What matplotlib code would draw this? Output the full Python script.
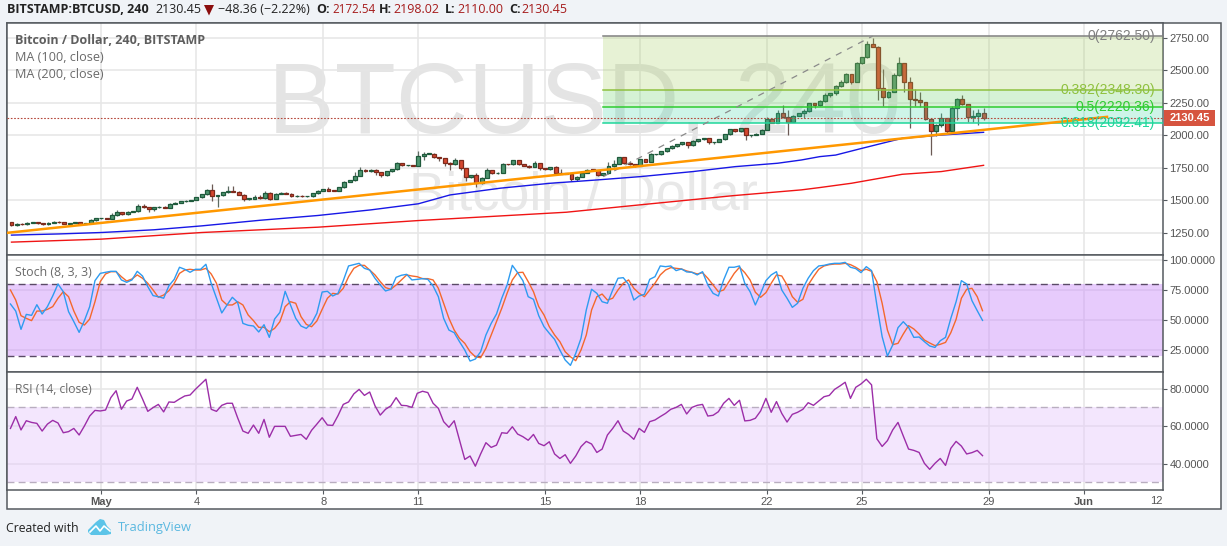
import numpy as np
import matplotlib
matplotlib.use("Agg")
import matplotlib.pyplot as plt
from matplotlib.patches import Rectangle, Polygon
from matplotlib.transforms import blended_transform_factory

W, H = 1227, 546
first_open = 1330.0
closes = [
1307,1320,1313,1328,1330,1323,1315,1328,1333,1330,
1320,1325,1330,1320,1323,1346,1359,1359,1356,1384,
1407,1392,1412,1415,1458,1446,1430,1446,1451,1443,
1474,1479,1492,1497,1502,1522,1546,1581,1535,1538,
1561,1569,1566,1543,1512,1512,1528,1515,1558,1512,
1551,1556,1551,1530,1533,1530,1530,1553,1571,1584,
1574,1571,1599,1643,1653,1689,1730,1722,1735,1717,
1691,1722,1737,1784,1768,1768,1766,1840,1858,1858,
1830,1822,1789,1776,1807,1745,1676,1692,1635,1673,
1730,1707,1712,1778,1776,1807,1776,1766,1755,1784,
1745,1738,1753,1707,1704,1702,1661,1681,1712,1735,
1732,1697,1707,1761,1781,1830,1789,1776,1766,1814,
1796,1853,1853,1876,1899,1917,1929,1945,1922,1953,
1968,1976,1945,1947,1968,2006,2045,2029,2052,1999,
2001,2011,2042,2127,2096,2168,2137,2104,2150,2168,
2188,2244,2234,2262,2306,2321,2375,2411,2467,2411,
2552,2598,2705,2680,2365,2290,2334,2462,2552,2413,
2280,2270,2252,2122,2029,2081,2129,2034,2206,2280,
2237,2139,2150,2173,2130.45]
wick_up = [
5,5,3,3,3,3,3,3,5,3, 3,3,3,3,3,8,3,3,3,15,
15,5,3,3,15,10,3,5,5,5, 3,3,5,3,3,3,5,5,44,5,
5,40,40,5,3,3,8,15,10,3, 3,10,5,5,3,3,3,3,5,5,
15,3,3,5,5,25,25,10,5,5, 3,3,3,8,5,3,3,38,15,5,
5,5,5,5,15,3,3,5,20,3, 15,3,3,5,3,5,3,3,3,15,
3,3,5,10,30,5,3,3,5,5, 5,3,3,35,25,5,3,15,3,5,
3,10,5,3,5,10,5,5,3,10, 5,5,3,3,5,3,5,5,5,3,
3,5,3,10,5,25,64,56,5,5, 10,5,5,10,15,5,10,15,10,5,
10,5,20,46,3,146,3,15,46,3, 36,77,64,3,3,5,38,3,18,3,
28,3,44,26,36]
wick_dn = [
8,5,5,3,3,5,3,3,3,3, 3,3,3,3,3,3,3,3,3,3,
3,3,3,3,3,3,25,10,3,3, 5,5,3,3,3,3,3,3,38,87,
3,3,3,5,15,10,3,5,3,10, 3,3,3,3,3,5,3,3,3,3,
5,3,3,3,3,3,3,5,3,25, 10,3,3,3,3,3,3,3,30,3,
5,20,25,43,3,10,25,5,30,10, 3,3,3,3,3,3,3,5,5,3,
15,3,3,15,5,3,15,15,5,3, 3,10,5,5,3,3,10,3,8,3,
5,3,3,3,3,3,5,3,20,3, 3,3,15,15,3,3,3,3,3,35,
10,3,3,3,5,5,3,100,5,5, 33,10,25,10,10,10,10,5,8,15,
5,5,3,3,95,66,3,3,3,80, 223,46,38,5,179,36,20,28,3,90,
3,36,36,72,15]

stoch_k = [
63.2,57.3,42,54.5,53.7,62.6,54.8,61,69.9,79.9,
73.5,56.8,48.4,39.5,49.3,61,82.7,88.8,89.7,90.5,
90.5,83.3,81.3,83.3,90.5,86.6,77.7,70.2,69.3,68,
78.5,83.8,93.9,92.2,89.7,92.2,92.2,96.4,80.5,68,
55.7,62.4,68.8,64.6,47,45.4,44.8,39.8,45.9,35.3,
50.6,56.2,73.8,62.4,51.2,44.8,42.8,47,55.4,73.2,
73.8,69.9,72.1,82.7,95,96.1,97.2,93,91.6,84.7,
79.1,74.1,75.5,85.5,87.2,88,83.3,83.8,84.4,83.8,
78.3,69.3,51.2,41.4,39.2,31.7,24.7,15.5,17.2,23.3,
37.3,47,54.8,68,79.1,95.5,89.4,82.7,69.3,67.1,
53.4,44.2,38.7,33.6,24.7,16.4,11.9,21.9,34.5,58.2,
75.5,72.1,65.1,63.8,74.9,84.7,85.2,79.6,66.5,69.9,
71.3,83.8,86,95,94.4,95,91.1,92.5,90,89.7,
87.5,90.2,79.1,72.1,69.9,83.3,93.9,93.9,95,80.5,
73.5,62.4,72.1,82.7,87.5,90.2,74.9,68,60.4,63.8,
76.3,84.7,91.1,95,95.5,96.6,97.2,97.2,98,93.9,
92.8,89.4,94.4,91.1,62.4,35.9,19.7,28.9,43.4,48.4,
43.7,35.3,35.6,31.7,28.1,26.9,32.5,35.3,51.2,65.1,
82.7,79.9,66,57.6,49.5]
stoch_d = [
74.9,66.5,53.4,51.2,49.3,57.3,57.3,58.7,61,68,
73.5,69.3,57.3,47.9,45.6,50.6,65.1,81.9,88.3,90.2,
90.2,86,82.4,84.1,87.5,84.7,80.5,74.9,68.8,70.7,
74.3,80.5,88.8,91.6,92.2,91.6,91.6,93,88.3,80.5,
66.5,62.4,62.4,65.1,62.4,54,49.3,43.7,43.7,40,
42.8,48.4,61,65.1,63.8,52.6,46.2,44.2,49,58.7,
68,72.1,71.5,76.3,86,93,95.5,95.5,91.6,87.5,
81.9,76.9,75.5,79.1,83.3,87.5,86.6,86,84.4,84.4,
83.3,76.3,63.8,51.2,41.4,34.5,30.3,23.3,19.1,18.3,
26.1,37.3,48.4,59.6,72.1,83.3,89.4,89.7,81.9,73.5,
61,54,44.2,37.3,31.7,23.3,19.1,15.8,24.7,37.3,
58.2,69.3,71.5,66.5,68,74.9,80.5,83.3,76.3,72.1,
69.3,74.9,80.5,87.5,91.6,93.6,93,92.5,90.8,89.7,
88.3,89.4,84.7,79.1,73.5,74.9,81.9,88.8,93.9,89.4,
83.3,73,68.8,72.7,80.5,87.5,86.6,79.1,69.3,64.6,
67.1,79.1,86,92.2,95,96.1,96.6,96.6,97.2,96.1,
93.9,91.1,92.2,90.5,81.9,63.8,41.4,29.2,30.3,38.1,
45.1,42.3,38.1,33.1,30.6,28.4,29.5,31.1,39.2,50.4,
68,75.5,76.3,69.3,57.6]
rsi = [
58.8,65.1,58,62.9,62,61.5,57.4,61.1,63.1,61.7,
56.5,57.1,58.8,55.3,60.1,65.4,68.4,68.1,68.6,75.2,
78.9,69,73.4,74.5,80.7,74.5,67.9,69.9,71.6,67.6,
72.9,72.7,74.5,76.1,76.6,79.6,82.3,85,69,67.9,
71.1,72.2,72.2,64.5,57.4,56.2,60.6,56.2,63.6,54.1,
59.9,59.9,59.9,54.6,55.1,55.6,53,57.8,61.1,64.5,
60.6,60.4,65.6,71.6,72.9,77.2,79.6,76.4,78.2,70.9,
65.9,69,70.8,75.2,71.1,70.9,70,77.5,78.6,77.9,
72.2,69.5,62.4,59.4,62.9,52.6,42.3,44.1,38.7,45.2,
51.2,48.7,49.9,56.5,56.2,59.7,55.8,54.4,52.5,55.6,
50.8,49.6,51.7,45.2,42.8,44.8,40.2,44.1,49.1,51.9,
50.5,46,47.8,55.3,58.8,62.9,57.4,55.6,53,58.8,
56.7,62.4,63.3,65.1,66.8,69,70,71.6,66.5,70,
71.1,71.6,65.4,65.8,67.7,72.2,74.8,71.1,73.8,62.8,
63.1,64.2,68.1,74.8,67.4,73.1,66.8,62.2,66.3,67.4,
69,72.5,71.1,73.4,75.7,76.4,79.6,81.4,83.4,74.8,
80.7,82.5,85,82,53.3,49.2,52.3,58,62,54.8,
47.8,47.1,46,40.2,37,40.2,42.8,39.1,48.2,51.9,
49.4,45.2,45.9,47.1,44.3]

ma100_idx = [0,9,17,27,36,47,58,68,77,83,92.5,102,111,119,129,137,145,149.5,153,156,161,168.6,176,184]
ma100_val = [1231,1240,1251,1272,1302,1345,1382,1425,1472,1540,1592,1630,1656,1681,1720,1758,1784,1809,1835,1847,1899,1976,2001,2022]
ma200_idx = [0,17,36,58,77,105,119,136.7,149.5,153,159,168.6,176,184]
ma200_val = [1177,1200,1251,1292,1343,1407,1464,1535,1579,1597,1630,1699,1720,1768]
trend_idx = [-0.95,207.6]
trend_val = [1248,2142]
diag_idx = [112,163]
diag_val = [1681,2762.5]

fib_levels = [2762.50,2348.30,2220.36,2092.41]
fib_names = ["0(2762.50)","0.382(2348.30)","0.5(2220.36)","0.618(2092.41)"]
fib_colors = ["#808080","#8fc13f","#2ecc30","#1fd69b"]
fib_fills = ["#a5cf5f","#5ed05f","#45d8a8"]

time_idx = [17,35,59,77,101,119,143,161,185,203]
time_lab = ["May","4","8","11","15","18","22","25","29","Jun"]
price_ticks = [1250,1500,1750,2000,2250,2500,2750]
stoch_ticks = [25,50,75,100]
rsi_ticks = [40,60,80]

plt.rcParams['font.family'] = ['Liberation Sans','DejaVu Sans']
BG = "#f0f3f7"; SP = "#555a5f"; GRID = "#e6e6e6"; TXT = "#555555"
fig = plt.figure(figsize=(W/100, H/100), dpi=100, facecolor=BG)

L, R = 6.5, 1163.3
def mkax(top, bot):
    ax = fig.add_axes([L/W, 1-bot/H, (R-L)/W, (bot-top)/H])
    ax.set_xlim(-0.946, 218.02)
    ax.set_facecolor("white")
    for s in ax.spines.values():
        s.set_color(SP); s.set_linewidth(1.1)
    ax.set_xticks(time_idx)
    ax.xaxis.grid(True, color=GRID, lw=1.1, zorder=0)
    ax.yaxis.grid(True, color=GRID, lw=1.1, zorder=0)
    ax.set_axisbelow(True)
    ax.tick_params(axis='x', length=0, labelbottom=False)
    ax.yaxis.tick_right()
    ax.tick_params(axis='y', length=3, width=0.8, color=SP, labelcolor=TXT, labelsize=8, pad=1.5)
    return ax

fig.add_artist(Rectangle((L/W, 1-509.3/H), (1220.7-L)/W, (509.3-23.3)/H, transform=fig.transFigure,
                         fc="white", ec=SP, lw=1.1, zorder=-5))

a1 = mkax(23.3, 255.3)
a2 = mkax(255.3, 372.3)
a3 = mkax(372.3, 490.0)

# price pane
a1.set_ylim(1075.6, 2861)
a1.set_yticks(price_ticks)
a1.set_yticklabels([f"{v:.2f}" for v in price_ticks])
a1.text(585/W, 1-107.5/H, "BTCUSD, 240", transform=fig.transFigure, fontsize=72, color="#e4e4e4",
        ha='center', va='center', zorder=0.5)
a1.text(583/W, 1-195/H, "Bitcoin / Dollar", transform=fig.transFigure, fontsize=39, color="#e8e8e8",
        ha='center', va='center', zorder=0.5)

idx = np.arange(len(closes))
opens = [first_open] + closes[:-1]
UP_F, UP_E, DN_F, DN_E = "#4f9670", "#1f5a3c", "#d5472f", "#7c2a1c"
bw = 3.9/5.283
for i, o, c, u, d in zip(idx, opens, closes, wick_up, wick_dn):
    up = c >= o
    hi, lo = max(o, c)+u, min(o, c)-d
    ec = UP_E if up else DN_E
    a1.plot([i, i], [lo, hi], color="#5d6b62" if up else "#6b5a55", lw=0.9, zorder=3, solid_capstyle='butt')
    a1.add_patch(Rectangle((i-bw/2, min(o, c)), bw, max(abs(c-o), 4), fc=UP_F if up else DN_F,
                           ec=ec, lw=0.9, zorder=3.2))

for (a, b, col) in zip(fib_levels[:-1], fib_levels[1:], fib_fills):
    a1.add_patch(Rectangle((112, b), 218.02-112, a-b, fc=col, ec='none', alpha=0.26, zorder=3.5))
for lv, col in zip(fib_levels, fib_colors):
    a1.plot([112, 218.02], [lv, lv], color=col, lw=1.1, zorder=3.6)
fib_tr = blended_transform_factory(fig.transFigure, a1.transData)
for lv, nm, col in zip(fib_levels, fib_names, fib_colors):
    a1.text(1155/W, lv, nm, transform=fib_tr, fontsize=10, color=col, ha='right', va='center', zorder=6)
a1.plot(diag_idx, diag_val, color="#8a8a8a", lw=0.9, ls=(0, (5, 5)), zorder=3.7)
a1.plot(ma200_idx, ma200_val, color="#f01414", lw=1.0, zorder=4)
a1.plot(ma100_idx, ma100_val, color="#1717e6", lw=1.0, zorder=4.1)
a1.plot(trend_idx, trend_val, color="#ff9800", lw=1.8, zorder=4.5, solid_capstyle='butt')
a1.axhline(closes[-1], color="#b5473a", lw=0.8, ls=(0, (1.5, 1.5)), zorder=4.6)

LEG = dict(transform=fig.transFigure, family='Open Sans', va='center', zorder=7)
a1.text(15.3/W, 1-40.5/H, "Bitcoin / Dollar, 240, BITSTAMP", fontsize=9.0, fontweight='bold', color="#5e5e5e", **LEG)
a1.text(15.3/W, 1-57.5/H, "MA (100, close)", fontsize=9.1, color="#6a6a6a", **LEG)
a1.text(15.3/W, 1-74.5/H, "MA (200, close)", fontsize=9.1, color="#6a6a6a", **LEG)

fig.add_artist(Rectangle((1164/W, 1-126/H), 50.5/W, 16/H, transform=fig.transFigure, fc="#d6543f", ec='none', zorder=8))
fig.text(1189.5/W, 1-118.2/H, "2130.45", color="white", fontsize=8.0, fontweight='bold', ha='center', va='center', zorder=9)

# stoch pane
a2.set_ylim(6.1, 103.9)
a2.set_yticks(stoch_ticks)
a2.set_yticklabels([f"{v:.4f}" for v in stoch_ticks])
a2.axhspan(20, 80, color="#cd93fa", alpha=0.48, lw=0, zorder=1)
a2.axhline(80, color="#5a4a66", lw=1.0, ls=(0, (5, 3)), zorder=2)
a2.axhline(20, color="#5a4a66", lw=1.0, ls=(0, (5, 3)), zorder=2)
a2.plot(idx-0.2, stoch_d, color="#f4682c", lw=1.0, zorder=3)
a2.plot(idx-0.2, stoch_k, color="#2e9bf0", lw=1.0, zorder=3.1)
a2.text(15.3/W, 1-272.5/H, "Stoch (8, 3, 3)", fontsize=8.9, color="#6a6a6a", **LEG)

# rsi pane
a3.set_ylim(26.0, 88.7)
a3.set_yticks(rsi_ticks)
a3.set_yticklabels([f"{v:.4f}" for v in rsi_ticks])
a3.axhspan(30, 70, color="#e6c8fb", alpha=0.45, lw=0, zorder=1)
a3.axhline(70, color="#b9aec0", lw=1.0, ls=(0, (5, 3)), zorder=2)
a3.axhline(30, color="#b9aec0", lw=1.0, ls=(0, (5, 3)), zorder=2)
a3.plot(idx-0.2, rsi, color="#9c2ea8", lw=1.0, zorder=3)
a3.text(15.3/W, 1-389.5/H, "RSI (14, close)", fontsize=8.7, color="#6a6a6a", **LEG)

# time axis
a3.tick_params(axis='x', length=3, width=0.8, color=SP, labelbottom=True, labelcolor=TXT, labelsize=8, pad=2)
a3.set_xticklabels(time_lab)
for lab, s in zip(a3.get_xticklabels(), time_lab):
    if s in ("May", "Jun"):
        lab.set_fontweight('bold')
a3.text(1156/W, 1-500.7/H, "12", transform=fig.transFigure, fontsize=8, color=TXT, ha='center', va='center')

# header
def hdr(x, s, col="#222222", bold=False, size=9.0):
    fig.text(x/W, 1-9.6/H, s, fontsize=size, color=col, family='Open Sans',
             fontweight='bold' if bold else 'normal', va='center', ha='left')
hdr(6.7, "BITSTAMP:BTCUSD, 240", bold=True)
hdr(155.5, "2130.45")
fig.add_artist(Polygon([(204/W, 1-5/H), (214/W, 1-5/H), (209/W, 1-15.5/H)], closed=True,
                       transform=fig.transFigure, fc="#8b0d0d", ec='none'))
hdr(218, "\u221248.36 (\u22122.22%)")
DR = "#a61c1c"
hdr(316, "O:", bold=True); hdr(332, "2172.54", DR, size=8.4)
hdr(379, "H:", bold=True); hdr(393.5, "2198.02", DR)
hdr(445, "L:", bold=True); hdr(457, "2110.00", DR)
hdr(509, "C:", bold=True); hdr(521, "2130.45", DR)

# footer
fig.text(6.5/W, 1-528/H, "Created with", fontsize=8.8, family='Open Sans', color="#222222", va='center')
fig.text(118/W, 1-528/H, "TradingView", fontsize=9.3, family='Open Sans', color="#5ab8e0", va='center')
def fp(pts):
    return [(x/W, 1-y/H) for x, y in pts]
LOGO = "#5cc4e8"
fig.add_artist(Polygon(fp([(88, 532), (88, 530), (96, 522), (100, 519), (104, 520), (107, 526), (111, 530), (111, 534), (106, 535), (91, 535)]),
                       closed=True, transform=fig.transFigure, fc=LOGO, ec='none'))
fig.add_artist(plt.Line2D([90/W, 96/W, 100/W, 104/W, 110/W], [1-532/H, 1-526/H, 1-531/H, 1-526/H, 1-531/H],
                          transform=fig.transFigure, color="white", lw=1.2))

fig.savefig("out.png", dpi=100, facecolor=BG)
